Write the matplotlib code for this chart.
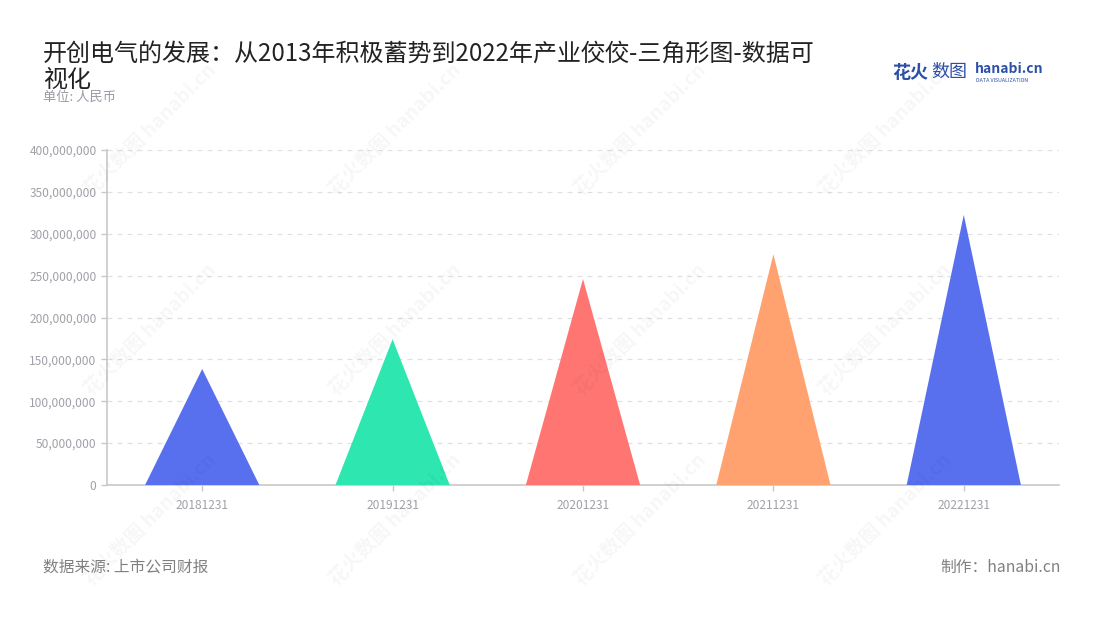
import matplotlib
matplotlib.use("Agg")
import matplotlib.pyplot as plt
from matplotlib.ticker import FuncFormatter

plt.rcParams['font.family'] = ['Noto Sans CJK SC', 'DejaVu Sans']

# data
dates = ['20181231', '20191231', '20201231', '20211231', '20221231']
revenue = [138500000, 174000000, 246000000, 275500000, 322500000]
colors = ['#5870EE', '#2DE6B0', '#FF7572', '#FFA26F', '#5870EE']
yticks = [0, 50000000, 100000000, 150000000, 200000000, 250000000,
          300000000, 350000000, 400000000]

fig = plt.figure(figsize=(11, 6.2), dpi=100)
ax = fig.add_axes([107/1100, 1-485/620, (1059-107)/1100, (485-150)/620])

w = 0.6   # triangle base width in category units
for i, v in enumerate(revenue):
    ax.fill([i - w/2, i, i + w/2], [0, v, 0], color=colors[i], lw=0, zorder=3)

ax.set_xlim(-0.5, len(dates) - 0.5)
ax.set_ylim(0, 400000000)
ax.set_xticks(range(len(dates)))
ax.set_xticklabels(dates)
ax.set_yticks(yticks)
ax.yaxis.set_major_formatter(FuncFormatter(lambda v, p: f'{int(v):,}'))
ax.tick_params(axis='both', colors='#C8C8C8', labelcolor='#A0A0A8',
               labelsize=8.6, length=4, width=1)
ax.tick_params(axis='x', pad=6)
ax.grid(axis='y', color='#E0E0E0', linestyle=(0, (4, 4)), lw=0.9, zorder=0)
ax.set_axisbelow(True)
for s in ['top', 'right']:
    ax.spines[s].set_visible(False)
for s in ['left', 'bottom']:
    ax.spines[s].set_color('#C8C8C8')
    ax.spines[s].set_linewidth(1.2)

# watermarks
for wx in [150, 395, 640, 885]:
    for wy in [130, 330, 520]:
        fig.text(wx/1100, 1-wy/620, '花火数图 hanabi.cn', rotation=45,
                 fontsize=14, color='#000000', alpha=0.035, fontweight='bold',
                 ha='center', va='center')

# titles
fig.text(43/1100, 1-67/620, '开创电气的发展：从2013年积极蓄势到2022年产业佼佼-三角形图-数据可\n视化',
         fontsize=17.3, color='#222222', ha='left', va='center', linespacing=1.0)
fig.text(43/1100, 1-97/620, '单位: 人民币', fontsize=9.5, color='#9A9AA5',
         ha='left', va='center')

# logo
fig.text(892/1100, 1-72/620, '花火', fontsize=13, fontweight='bold',
         color='#2C4FA8', ha='left', va='center')
fig.text(931/1100, 1-72/620, '数图', fontsize=13, color='#2C4FA8',
         ha='left', va='center')
fig.text(975/1100, 1-69/620, 'hanabi.cn', fontsize=10, fontweight='bold',
         color='#2C4FA8', ha='left', va='center')
fig.text(976/1100, 1-80/620, 'DATA VISUALIZATION', fontsize=3.8,
         color='#2C4FA8', ha='left', va='center')

# footer
fig.text(43/1100, 1-567/620, '数据来源: 上市公司财报', fontsize=11.3,
         color='#808080', ha='left', va='center')
fig.text(1061/1100, 1-567/620, '制作：hanabi.cn', fontsize=11.3,
         color='#808080', ha='right', va='center')

fig.savefig('out.png', dpi=100)
